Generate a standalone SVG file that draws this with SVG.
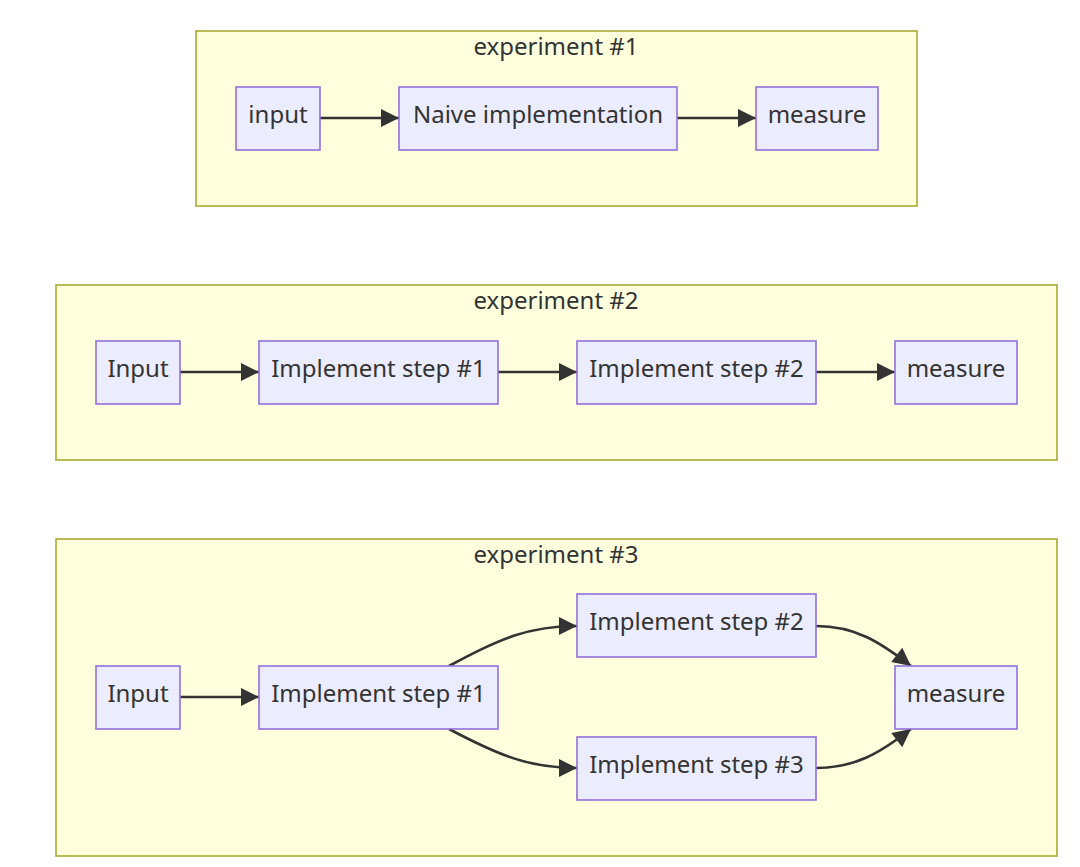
<svg xmlns="http://www.w3.org/2000/svg" width="1080" height="867" viewBox="0 0 1080 867">
<style>
.bg{fill:#ffffff}
.cluster{fill:#ffffde;stroke:#aaaa33;stroke-width:1.6}
.node{fill:#ececff;stroke:#9370db;stroke-width:1.6}
.t{font-family:"Noto Sans","Liberation Sans",sans-serif;font-size:24px;fill:#333333;text-anchor:middle}
.edge{fill:none;stroke:#333333;stroke-width:2.6}
</style>
<defs>
<marker id="arrow" viewBox="0 0 10 10" refX="10" refY="5" markerUnits="userSpaceOnUse" markerWidth="20" markerHeight="18" orient="auto">
<path d="M0,0 L10,5 L0,10 z" fill="#333333"/>
</marker>
</defs>
<rect class="bg" x="0" y="0" width="1080" height="867"/>

<g id="cluster1">
<rect class="cluster" x="196" y="31" width="721" height="175"/>
<text class="t" x="556" y="55">experiment #1</text>
</g>
<g id="cluster2">
<rect class="cluster" x="56" y="285" width="1001" height="175"/>
<text class="t" x="556" y="309">experiment #2</text>
</g>
<g id="cluster3">
<rect class="cluster" x="56" y="539" width="1001" height="317"/>
<text class="t" x="556" y="563">experiment #3</text>
</g>

<g id="connectors">
<path class="edge" d="M320,118 L399,118" marker-end="url(#arrow)"/>
<path class="edge" d="M677,118 L756,118" marker-end="url(#arrow)"/>
<path class="edge" d="M180,372 L259,372" marker-end="url(#arrow)"/>
<path class="edge" d="M498,372 L577,372" marker-end="url(#arrow)"/>
<path class="edge" d="M816,372 L895,372" marker-end="url(#arrow)"/>
<path class="edge" d="M180,697 L259,697" marker-end="url(#arrow)"/>
<path class="edge" d="M449,666 C500,638 530,626 577,626" marker-end="url(#arrow)"/>
<path class="edge" d="M449,729 C500,756 530,768 577,768" marker-end="url(#arrow)"/>
<path class="edge" d="M816,626 C855,626 880,642 911,666" marker-end="url(#arrow)"/>
<path class="edge" d="M816,768 C855,768 880,753 911,729" marker-end="url(#arrow)"/>
</g>

<g id="e1_input">
<rect class="node" x="236" y="87" width="84" height="63"/>
<text class="t" x="278" y="123">input</text>
</g>
<g id="e1_naive">
<rect class="node" x="399" y="87" width="278" height="63"/>
<text class="t" x="538" y="123">Naive implementation</text>
</g>
<g id="e1_measure">
<rect class="node" x="756" y="87" width="122" height="63"/>
<text class="t" x="817" y="123">measure</text>
</g>

<g id="e2_input">
<rect class="node" x="96" y="341" width="84" height="63"/>
<text class="t" x="138" y="377">Input</text>
</g>
<g id="e2_step1">
<rect class="node" x="259" y="341" width="239" height="63"/>
<text class="t" x="378.500" y="377">Implement step #1</text>
</g>
<g id="e2_step2">
<rect class="node" x="577" y="341" width="239" height="63"/>
<text class="t" x="696.500" y="377">Implement step #2</text>
</g>
<g id="e2_measure">
<rect class="node" x="895" y="341" width="122" height="63"/>
<text class="t" x="956" y="377">measure</text>
</g>

<g id="e3_input">
<rect class="node" x="96" y="666" width="84" height="63"/>
<text class="t" x="138" y="702">Input</text>
</g>
<g id="e3_step1">
<rect class="node" x="259" y="666" width="239" height="63"/>
<text class="t" x="378.500" y="702">Implement step #1</text>
</g>
<g id="e3_step2">
<rect class="node" x="577" y="594" width="239" height="63"/>
<text class="t" x="696.500" y="630">Implement step #2</text>
</g>
<g id="e3_step3">
<rect class="node" x="577" y="737" width="239" height="63"/>
<text class="t" x="696.500" y="773">Implement step #3</text>
</g>
<g id="e3_measure">
<rect class="node" x="895" y="666" width="122" height="63"/>
<text class="t" x="956" y="702">measure</text>
</g>
</svg>
